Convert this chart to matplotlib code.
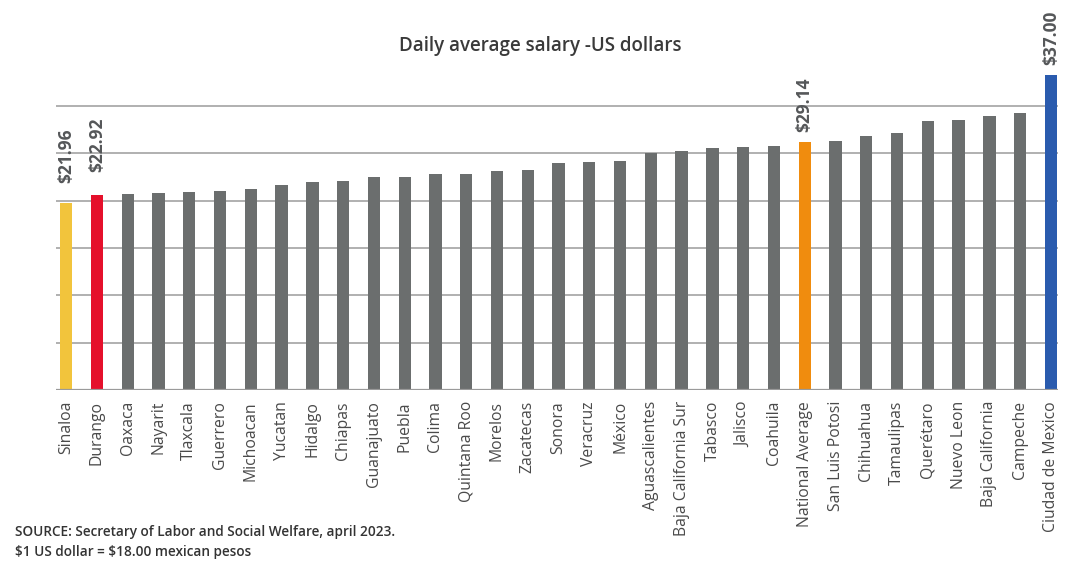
import matplotlib
matplotlib.use("Agg")
import matplotlib.pyplot as plt

states = ["Sinaloa", "Durango", "Oaxaca", "Nayarit", "Tlaxcala", "Guerrero", "Michoacan",
          "Yucatan", "Hidalgo", "Chiapas", "Guanajuato", "Puebla", "Colima", "Quintana Roo",
          "Morelos", "Zacatecas", "Sonora", "Veracruz", "México", "Aguascalientes",
          "Baja California Sur", "Tabasco", "Jalisco", "Coahuila", "National Average",
          "San Luis Potosi", "Chihuahua", "Tamaulipas", "Querétaro", "Nuevo Leon",
          "Baja California", "Campeche", "Ciudad de Mexico"]
salary_usd = [21.96, 22.92, 23.00, 23.15, 23.20, 23.40, 23.65,
              24.10, 24.40, 24.50, 24.95, 25.05, 25.30, 25.40,
              25.65, 25.85, 26.65, 26.75, 26.85, 27.85,
              28.10, 28.35, 28.50, 28.60, 29.14,
              29.25, 29.81, 30.20, 31.54, 31.65,
              32.19, 32.47, 37.00]
highlight = {"Sinaloa": "#F2C43C", "Durango": "#E5102B",
             "National Average": "#F08C0E", "Ciudad de Mexico": "#2A5BAE"}
labelled = ["Sinaloa", "Durango", "National Average", "Ciudad de Mexico"]
label_gap_pts = {"Sinaloa": 14, "Durango": 16, "National Average": 7, "Ciudad de Mexico": 7}
pesos_per_usd = 18.0
grid_step_pesos = 100

plt.rcParams['font.family'] = ['Open Sans', 'DejaVu Sans']
plt.rcParams['text.usetex'] = False

W, H = 1090, 583
fig = plt.figure(figsize=(W / 100, H / 100), dpi=100)
ax = fig.add_axes([56 / W, (H - 390) / H, (1058 - 56) / W, 340 / H])

x = list(range(len(states)))
colors = [highlight.get(s, "#6B6E6E") for s in states]
ax.bar(x, salary_usd, width=0.4, color=colors, zorder=3)

step = grid_step_pesos / pesos_per_usd
for k in range(1, 7):
    ax.axhline(k * step, color="#A3A3A3", lw=1.2, zorder=1)
ax.axhline(0, color="#9A9A9A", lw=1.6, zorder=4)

ax.set_xlim(-0.33, len(states) - 1 + 0.23)
ax.set_ylim(0, 340 / 8.52)

for s in labelled:
    i = states.index(s)
    v = salary_usd[i]
    ax.annotate(f"\\${v:.2f}", (i, v), xytext=(0, label_gap_pts[s]), textcoords="offset points",
                rotation=90, ha="center", va="bottom", fontsize=12.5, fontweight="bold",
                color="#555759", annotation_clip=False)

ax.set_xticks(x)
ax.set_xticklabels(states, rotation=90, fontsize=11.3, color="#4A4A4A")
ax.tick_params(axis="x", length=0, pad=8)
ax.set_yticks([])
for sp in ax.spines.values():
    sp.set_visible(False)

fig.text(540 / W, 1 - 46 / H, "Daily average salary -US dollars", ha="center", va="center",
         fontsize=13.5, color="#3A3A3A", fontweight="semibold")
fig.text(15 / W, 1 - 532 / H, "SOURCE: Secretary of Labor and Social Welfare, april 2023.",
         ha="left", va="center", fontsize=9.8, color="#333333", fontweight="semibold")
fig.text(15 / W, 1 - 552 / H, "\\$1 US dollar = \\$18.00 mexican pesos",
         ha="left", va="center", fontsize=9.8, color="#333333", fontweight="semibold")

fig.savefig("out.png", dpi=100)
